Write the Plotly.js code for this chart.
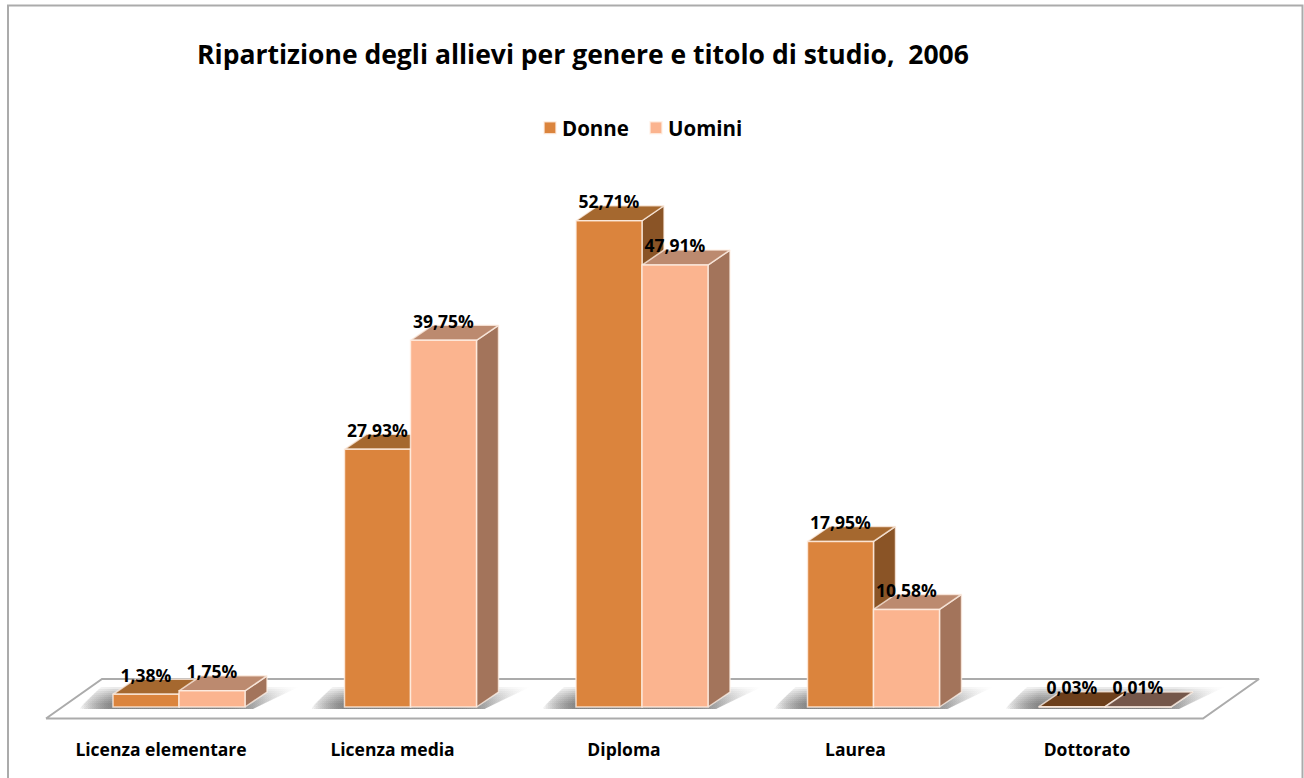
<!DOCTYPE html>
<html>
<head>
<meta charset="utf-8">
<script src="https://cdn.plot.ly/plotly-3.0.1.min.js"></script>
<style>
html,body{margin:0;padding:0;background:#fff;overflow:hidden}
.legend .legendsymbols{transform:translateX(8px)}
.legend .scrollbox{clip-path:none !important}
</style>
</head>
<body>
<div id="chart" style="width:1304px;height:778px"></div>
<script>
const categories = ["Licenza elementare", "Licenza media", "Diploma", "Laurea", "Dottorato"];
const donne = [1.38, 27.93, 52.71, 17.95, 0.03];
const uomini = [1.75, 39.75, 47.91, 10.58, 0.01];
const donneLabels = ["1,38%", "27,93%", "52,71%", "17,95%", "0,03%"];
const uominiLabels = ["1,75%", "39,75%", "47,91%", "10,58%", "0,01%"];

const W = 1304, H = 778, plotBottom = 735;
const pxPerCat = 231.5, pxPerPct = 9.225, originX = 179, originY = 707;
const xRange = [-originX / pxPerCat, (W - originX) / pxPerCat];
const yRange = [-(plotBottom - originY) / pxPerPct, originY / pxPerPct];

const barW = 66 / pxPerCat, depthX = 22 / pxPerCat, depthY = 15 / pxPerPct;
const idx = categories.map((_, i) => i);
const FONT = "'Open Sans', sans-serif";

function poly(xs, ys, extra) {
  return Object.assign({
    type: "scatter", mode: "lines", x: xs.concat(xs[0]), y: ys.concat(ys[0]),
    fill: "toself", hoverinfo: "skip", showlegend: false
  }, extra);
}
const traces = [];

// floor
const fl = -133 / pxPerCat, fr = 1024 / pxPerCat, fy0 = -11.5 / pxPerPct, fy1 = 28 / pxPerPct, fs = 56 / pxPerCat;
traces.push(poly([fl, fr, fr + fs, fl + fs], [fy0, fy0, fy1, fy1],
  {fillcolor: "#ffffff", line: {color: "#ababab", width: 2}}));

// soft shadows on the floor: stacked layers so they fade upward
const sy0 = -2 / pxPerPct;
[20, 18, 16, 14, 12, 10, 8, 6, 4].forEach(h => {
  const sy1 = h / pxPerPct, slope = h / 20;
  idx.forEach(i => {
    const a = i - barW, b = i + barW;
    traces.push(poly([a - 34 / pxPerCat, b + 8 / pxPerCat, b + (8 + 46 * slope) / pxPerCat, a - (34 - 22 * slope) / pxPerCat],
      [sy0, sy0, sy1, sy1], {
        line: {width: 0, color: "rgba(0,0,0,0)"},
        fillgradient: {type: "horizontal", colorscale: [
          [0, "rgba(80,80,80,0)"], [0.16, "rgba(80,80,80,0.12)"],
          [0.78, "rgba(80,80,80,0.12)"], [1, "rgba(80,80,80,0)"]]}
      }));
  });
});

// 3D side and top faces, built from the values
const edge = {color: "rgba(255,240,230,0.75)", width: 1.5};
function faces(vals, x0Of, sideCol, topCol, flatCol) {
  vals.forEach((v, i) => {
    const x0 = x0Of(i), x1 = x0 + barW;
    traces.push(poly([x1, x1 + depthX, x1 + depthX, x1], [0, depthY, v + depthY, v],
      {fillcolor: sideCol, line: edge}));
    traces.push(poly([x0, x1, x1 + depthX, x0 + depthX], [v, v, v + depthY, v + depthY],
      {fillcolor: v < 0.1 ? flatCol : topCol, line: edge}));
  });
}
faces(donne, i => i - barW, "#8a5426", "#a5682f", "#6d3f1b");
faces(uomini, i => i, "#a3745b", "#bc8a6f", "#75574a");

// front faces as real bars on an overlay subplot
const barLine = {color: "rgba(255,240,230,0.8)", width: 1.5};
traces.push({type: "bar", name: "Donne", x: idx, y: donne, xaxis: "x2", yaxis: "y2",
  marker: {color: "#db843d", line: barLine}, hoverinfo: "skip"});
traces.push({type: "bar", name: "Uomini", x: idx, y: uomini, xaxis: "x2", yaxis: "y2",
  marker: {color: "#fbb48f", line: barLine}, hoverinfo: "skip"});

// value labels
const lift = 17 / pxPerPct;
function labels(vals, txt, off) {
  traces.push({type: "scatter", mode: "text", xaxis: "x2", yaxis: "y2", showlegend: false, hoverinfo: "skip",
    x: idx.map(i => i + off), y: vals.map(v => v + lift), text: txt,
    textposition: "middle center", cliponaxis: false,
    textfont: {family: FONT, size: 17.5, color: "#000", weight: 700}});
}
labels(donne, donneLabels, -barW / 2);
labels(uomini, uominiLabels, barW / 2);

const pw = (v) => v / W, ph = (v) => 1 - v / plotBottom;
const tickShift = 18 / pxPerCat;
const layout = {
  width: W, height: H, autosize: false,
  margin: {l: 0, r: 0, t: 0, b: H - plotBottom, pad: 0},
  paper_bgcolor: "#ffffff", plot_bgcolor: "rgba(0,0,0,0)",
  barmode: "group", bargap: 1 - 2 * barW, bargroupgap: 0,
  title: {text: "Ripartizione degli allievi per genere e titolo di studio,  2006",
    x: 583 / W, xanchor: "center", xref: "paper", y: 1 - 55 / H, yanchor: "middle", yref: "container",
    font: {family: FONT, size: 26.5, color: "#000", weight: 700}},
  legend: {orientation: "h", x: 522 / W, xref: "paper", xanchor: "left",
    y: ph(128), yanchor: "middle", traceorder: "normal", bgcolor: "rgba(0,0,0,0)",
    font: {family: FONT, size: 20.5, color: "#000", weight: 700},
    itemwidth: 30, entrywidth: 61, entrywidthmode: "pixels", itemclick: false, itemdoubleclick: false},
  xaxis: {type: "linear", range: xRange, tickmode: "array", tickvals: idx.map(i => i - tickShift), ticktext: categories,
    showgrid: false, zeroline: false, showline: false, ticks: "", ticklen: 0, ticklabelstandoff: 2, fixedrange: true,
    tickangle: 0, tickfont: {family: FONT, size: 17.5, color: "#000", weight: 700}},
  yaxis: {range: yRange, visible: false, fixedrange: true, showgrid: false, zeroline: false},
  xaxis2: {type: "linear", range: xRange, overlaying: "x", visible: false, fixedrange: true},
  yaxis2: {range: yRange, overlaying: "y", visible: false, fixedrange: true},
  shapes: [{type: "path", xref: "paper", yref: "paper", layer: "below",
    path: `M ${pw(8)} ${ph(778)} L ${pw(8)} ${ph(5.5)} L ${pw(1302.5)} ${ph(5.5)} L ${pw(1302.5)} ${ph(778)}`,
    line: {color: "#ababab", width: 2}}]
};
Plotly.newPlot("chart", traces, layout, {displayModeBar: false, staticPlot: true});
</script>
</body>
</html>
